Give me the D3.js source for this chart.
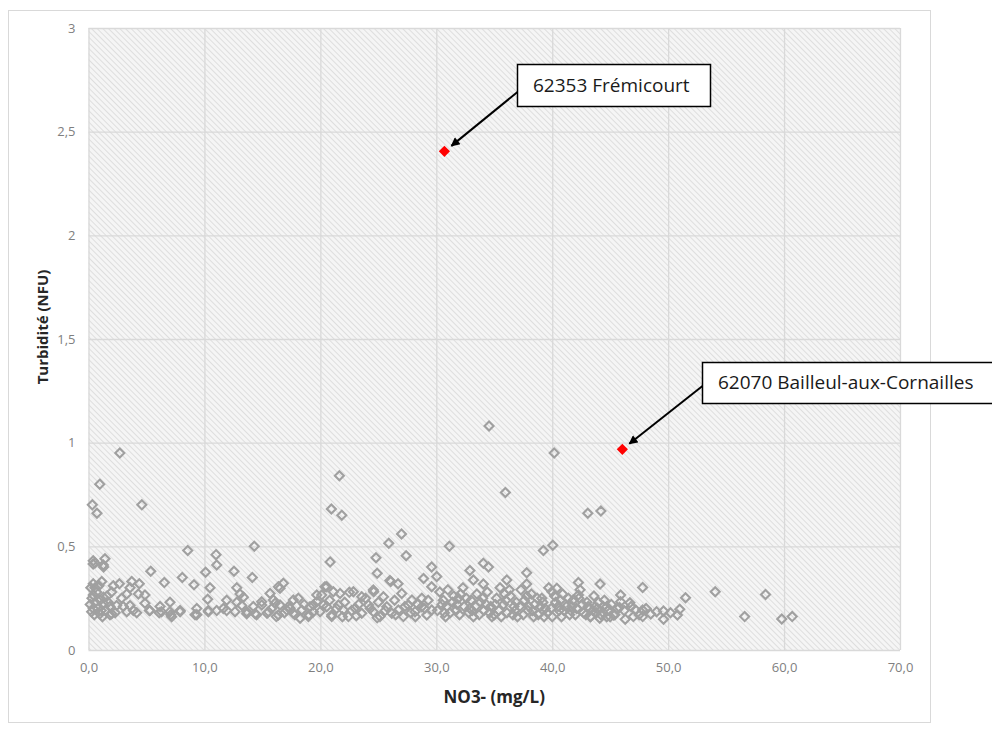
<!DOCTYPE html>
<html>
<head>
<meta charset="utf-8">
<script src="https://cdn.jsdelivr.net/npm/d3@7/dist/d3.min.js"></script>
<style>
  html, body { margin: 0; padding: 0; background: #fff; }
  svg { display: block; font-family: "Open Sans", "Liberation Sans", sans-serif; }
</style>
</head>
<body>
<svg id="chart" width="992" height="731"></svg>
<script>
// ---------- DATA ----------
const xTicks = [0, 10, 20, 30, 40, 50, 60, 70];
const yTicks = [0, 0.5, 1, 1.5, 2, 2.5, 3];
const xTitle = "NO3- (mg/L)";
const yTitle = "Turbidité (NFU)";

// [NO3- mg/L, turbidity NFU] — elevated points
const outlierPoints = [
  [0.33,0.70],[0.73,0.66],[0.97,0.80],[2.7,0.95],[4.6,0.70],[8.56,0.48],[14.3,0.50],
  [0.41,0.43],[1.42,0.44],[0.56,0.42],[1.28,0.41],[0.4,0.415],[1.3,0.40],
  [5.37,0.38],[11.0,0.46],[11.06,0.41],[10.1,0.375],[12.55,0.38],[14.13,0.35],[8.09,0.35],
  [6.54,0.325],[9.1,0.315],[10.48,0.30],[10.28,0.245],
  [21.64,0.84],[20.95,0.68],[21.85,0.65],[27.0,0.56],[25.9,0.515],[27.4,0.455],[24.8,0.445],
  [20.84,0.425],[24.9,0.37],[26.0,0.335],[26.7,0.32],[28.9,0.345],[29.6,0.40],[29.6,0.305],
  [34.55,1.08],[40.17,0.95],[35.96,0.76],[43.07,0.66],[44.2,0.67],[31.13,0.50],[40.05,0.505],
  [39.24,0.48],[34.06,0.418],[34.5,0.40],[32.9,0.383],[37.8,0.373],[30.04,0.354],[33.2,0.338],
  [36.08,0.338],[34.06,0.318],[37.8,0.318],[42.26,0.325],[44.13,0.318],[40.4,0.298],[39.97,0.281],
  [42.26,0.265],[47.8,0.302],[54.06,0.281],[58.4,0.268],[51.5,0.252],[56.6,0.161],[59.8,0.15],[60.7,0.161]
];

// main band, 0 to 15 mg/L
const band0to15 = [
  [0.41,0.32],[1.14,0.33],[0.56,0.30],[2.14,0.31],[2.66,0.32],[3.73,0.33],[4.38,0.32],[3.58,0.30],
  [4.3,0.27],[4.87,0.265],[3.3,0.27],[2.86,0.25],[2.0,0.28],[0.41,0.265],[1.28,0.255],[0.56,0.23],
  [1.28,0.225],[0.41,0.20],[1.85,0.21],[2.43,0.215],[3.0,0.21],[3.87,0.19],[3.58,0.215],[4.87,0.225],
  [5.3,0.19],[6.17,0.21],[6.3,0.185],[7.03,0.23],[7.03,0.185],[7.9,0.19],[7.17,0.16],[9.34,0.20],
  [9.19,0.17],[10.34,0.19],[11.06,0.19],[11.92,0.24],[11.63,0.20],[12.79,0.23],[13.07,0.27],[12.79,0.30],
  [13.36,0.255],[13.22,0.215],[13.65,0.185],[14.22,0.21],[14.37,0.175],[0.99,0.175],[1.85,0.17],[0.27,0.185],
  [2.0,0.175],[3.3,0.185],[4.16,0.18],[5.25,0.19],[6.1,0.18],[7.1,0.17],[7.9,0.185],[9.34,0.17],
  [10.34,0.185],[11.92,0.19],[12.64,0.185],[13.65,0.175],[14.5,0.17],
  [0.2,0.30],[0.7,0.28],[1.0,0.24],[0.15,0.22],[0.8,0.20],[1.5,0.19],[0.5,0.17],[1.2,0.16],
  [1.6,0.26],[0.9,0.31],[1.7,0.23],[2.3,0.18],[0.3,0.25],[1.1,0.19]
];

// main band, 15 to 30 mg/L
const band15to30 = [
  [14.94,0.233],[15.66,0.273],[16.52,0.298],[16.81,0.322],[15.95,0.241],[17.67,0.241],[18.1,0.249],
  [19.11,0.209],[19.69,0.233],[20.55,0.305],[21.12,0.281],[20.12,0.265],[16.52,0.217],[17.39,0.201],
  [16.38,0.305],[19.69,0.265],[20.4,0.305],[21.7,0.273],[22.85,0.281],[23.57,0.257],[24.57,0.289],
  [25.44,0.257],[27.02,0.273],[27.9,0.241],[28.75,0.249],[22.5,0.278],[24.6,0.281],[26.07,0.33],
  [15.4,0.177],[16.2,0.161],[17.1,0.193],[18.25,0.153],[19.4,0.185],[20.26,0.217],[20.98,0.161],
  [14.94,0.217],[15.52,0.185],[16.09,0.225],[16.38,0.169],[17.24,0.209],[17.67,0.177],[18.4,0.193],
  [18.97,0.161],[19.4,0.217],[19.97,0.185],[20.55,0.209],[20.98,0.169],[21.56,0.217],[21.99,0.193],
  [22.42,0.161],[23.0,0.201],[23.57,0.177],[24.15,0.217],[24.57,0.185],[25.15,0.161],[25.73,0.209],
  [26.16,0.177],[26.73,0.193],[27.16,0.161],[27.59,0.217],[28.17,0.185],[28.75,0.209],[29.18,0.169],
  [29.61,0.193],
  [20.8,0.24],[21.4,0.20],[22.1,0.23],[22.7,0.19],[23.3,0.22],[23.9,0.25],[24.3,0.20],[25.0,0.23],
  [25.6,0.19],[26.4,0.24],[27.3,0.21],[27.8,0.18],[28.4,0.22],[29.0,0.20],[29.3,0.24],[21.9,0.16],
  [23.1,0.165],[24.9,0.155],[26.5,0.17],[28.2,0.16],[19.0,0.17],[18.6,0.22],[17.8,0.17],[15.8,0.20],
  [16.9,0.18]
];

// main band, 30 to 46 mg/L
const band30to46 = [
  [30.3,0.28],[30.6,0.24],[30.9,0.21],[31.2,0.18],[31.5,0.26],[31.8,0.22],[32.0,0.17],[32.3,0.30],
  [32.6,0.25],[32.9,0.20],[33.2,0.16],[33.5,0.27],[33.8,0.23],[34.1,0.19],[34.4,0.28],[34.7,0.21],
  [35.0,0.17],[35.2,0.25],[35.5,0.30],[35.8,0.22],[36.1,0.18],[36.4,0.26],[36.7,0.21],[37.0,0.16],
  [37.3,0.29],[37.6,0.24],[37.9,0.19],[38.2,0.27],[38.5,0.22],[38.8,0.17],[39.1,0.25],[39.4,0.20],
  [39.7,0.30],[40.0,0.16],[40.3,0.23],[40.6,0.19],[40.9,0.27],[41.2,0.21],[41.5,0.17],[41.8,0.24],
  [42.1,0.20],[42.4,0.29],[42.7,0.18],[43.0,0.23],[43.3,0.16],[43.6,0.26],[43.9,0.20],[44.2,0.17],
  [44.5,0.24],[44.8,0.19],[45.1,0.22],[45.4,0.17],
  [30.1,0.19],[30.8,0.16],[31.4,0.23],[32.1,0.27],[32.8,0.18],[33.4,0.21],[34.0,0.25],[34.8,0.16],
  [35.4,0.19],[36.0,0.24],[36.6,0.17],[37.2,0.21],[37.8,0.26],[38.4,0.16],[39.0,0.21],[39.6,0.18],
  [40.2,0.26],[40.8,0.16],[41.4,0.25],[42.0,0.17],[42.6,0.22],[43.2,0.20],[43.8,0.18],[44.4,0.21],
  [45.0,0.16],[45.6,0.20],
  [30.5,0.22],[31.0,0.29],[31.7,0.19],[33.0,0.24],[33.7,0.17],[34.3,0.22],[35.6,0.16],[36.3,0.29],
  [36.9,0.23],[38.0,0.21],[38.7,0.25],[39.3,0.16],[40.5,0.21],[41.0,0.19],[41.7,0.21],[42.9,0.17],
  [43.5,0.19],[44.0,0.23],[44.7,0.16],
  [30.7,0.18],[31.9,0.25],[32.4,0.21],[33.1,0.19],[34.6,0.18],[35.1,0.22],[35.9,0.27],[36.8,0.19],
  [37.5,0.17],[38.3,0.19],[39.2,0.23],[39.9,0.20],[40.7,0.24],[41.6,0.19],[42.3,0.25],[43.1,0.21]
];

// main band, above 45 mg/L
const band45plus = [
  [45.9,0.265],[51.0,0.196],[50.8,0.169],[49.6,0.148],[49.6,0.188],[49.0,0.185],[48.5,0.174],
  [47.8,0.161],[47.8,0.193],[47.0,0.161],[47.2,0.193],[46.7,0.228],[45.9,0.233],[46.3,0.148],
  [45.3,0.169],[44.7,0.209],[44.1,0.153],[43.7,0.209],[43.3,0.161],[46.8,0.21],[47.5,0.17],
  [48.1,0.20],[46.2,0.19],[45.8,0.205],[50.2,0.18]
];

// highlighted stations
const highlightNames = ["62353 Frémicourt", "62070 Bailleul-aux-Cornailles"];
const highlightNO3 = [30.7, 46.05];
const highlightTurb = [2.405, 0.968];

// ---------- LAYOUT ----------
const svg = d3.select("#chart");
const plot = { left: 88.5, right: 900, top: 28, bottom: 650 };

const defs = svg.append("defs");
const pat = defs.append("pattern")
  .attr("id", "hatch").attr("width", 4).attr("height", 4)
  .attr("patternUnits", "userSpaceOnUse")
  .attr("patternTransform", "rotate(-45)");
pat.append("rect").attr("width", 4).attr("height", 4).attr("fill", "#f5f5f5");
pat.append("line").attr("x1", 0).attr("y1", 0).attr("x2", 0).attr("y2", 4)
  .attr("stroke", "#d4d4d4").attr("stroke-width", 1.4);

defs.append("marker")
  .attr("id", "arrow").attr("viewBox", "0 0 10 10")
  .attr("refX", 9).attr("refY", 5)
  .attr("markerWidth", 5).attr("markerHeight", 4.5)
  .attr("markerUnits", "strokeWidth")
  .attr("orient", "auto")
  .append("path").attr("d", "M0,0 L10,5 L0,10 z").attr("fill", "#000");

// outer chart frame
svg.append("rect").attr("x", 8.5).attr("y", 10.5).attr("width", 922).attr("height", 712)
  .attr("fill", "#fff").attr("stroke", "#d9d9d9").attr("stroke-width", 1);

const x = d3.scaleLinear().domain([0, 70]).range([plot.left, plot.right]);
const y = d3.scaleLinear().domain([0, 3]).range([plot.bottom, plot.top]);

// plot background
svg.append("rect")
  .attr("x", x(0)).attr("y", y(3))
  .attr("width", x(70) - x(0)).attr("height", y(0) - y(3))
  .attr("fill", "url(#hatch)");

const loc = d3.formatLocale({ decimal: ",", thousands: " ", grouping: [3], currency: ["", " €"] });
const fx = loc.format(".1f");
const fy = v => loc.format("~g")(v);

// gridlines
svg.append("g")
  .attr("transform", `translate(0,${plot.bottom})`)
  .call(d3.axisBottom(x).tickValues(xTicks).tickSize(-(plot.bottom - plot.top)).tickFormat(""))
  .call(g => g.select(".domain").remove())
  .call(g => g.selectAll("line").attr("stroke", "#d9d9d9").attr("stroke-width", 1.3));
svg.append("g")
  .attr("transform", `translate(${plot.left},0)`)
  .call(d3.axisLeft(y).tickValues(yTicks).tickSize(-(plot.right - plot.left)).tickFormat(""))
  .call(g => g.select(".domain").remove())
  .call(g => g.selectAll("line").attr("stroke", "#d9d9d9").attr("stroke-width", 1.3));

// tick labels
const xAxis = svg.append("g")
  .attr("transform", `translate(0,${plot.bottom + 10})`)
  .call(d3.axisBottom(x).tickValues(xTicks).tickSize(0).tickFormat(fx));
xAxis.select(".domain").remove();
xAxis.selectAll("text").attr("font-size", 13).attr("fill", "#7f7f7f")
  .attr("font-family", "Open Sans, sans-serif");

const yAxis = svg.append("g")
  .attr("transform", `translate(${plot.left - 10},0)`)
  .call(d3.axisLeft(y).tickValues(yTicks).tickSize(0).tickFormat(fy));
yAxis.select(".domain").remove();
yAxis.selectAll("text").attr("font-size", 13).attr("fill", "#7f7f7f")
  .attr("font-family", "Open Sans, sans-serif");

// axis titles
svg.append("text")
  .attr("x", (plot.left + plot.right) / 2).attr("y", 703)
  .attr("text-anchor", "middle").attr("font-size", 17).attr("font-weight", "bold")
  .attr("fill", "#262626").text(xTitle);
svg.append("text")
  .attr("transform", `translate(48,${(plot.top + plot.bottom) / 2 - 12}) rotate(-90)`)
  .attr("text-anchor", "middle").attr("font-size", 15).attr("font-weight", "bold")
  .attr("fill", "#262626").text(yTitle);

// points
const allPoints = [].concat(band0to15, band15to30, band30to46, band45plus, outlierPoints);
const diamond = d3.symbol().type(d3.symbolDiamond2).size(52);
svg.append("g").selectAll("path")
  .data(allPoints).join("path")
  .attr("d", diamond)
  .attr("transform", d => `translate(${x(d[0])},${y(d[1])})`)
  .attr("fill", "none").attr("stroke", "#a0a0a0").attr("stroke-width", 2.1);

// highlighted points
const hl = highlightNames.map((n, i) => ({ name: n, no3: highlightNO3[i], turb: highlightTurb[i] }));
const diamondRed = d3.symbol().type(d3.symbolDiamond2).size(80);
svg.append("g").selectAll("path")
  .data(hl).join("path")
  .attr("d", diamondRed)
  .attr("transform", d => `translate(${x(d.no3)},${y(d.turb)})`)
  .attr("fill", "#ff0000");

// annotation callouts (box position in px, arrow to the point)
const boxes = [
  { bx: 517.5, by: 64.5, bw: 193, bh: 42, ax: 517.5, ay: 92 },
  { bx: 702.5, by: 362.5, bw: 300, bh: 41, ax: 702.5, ay: 386 }
];
hl.forEach((d, i) => {
  const b = boxes[i];
  const px = x(d.no3), py = y(d.turb);
  svg.append("line")
    .attr("x1", b.ax).attr("y1", b.ay)
    .attr("x2", px + 7).attr("y2", py - 5.5)
    .attr("stroke", "#000").attr("stroke-width", 2)
    .attr("marker-end", "url(#arrow)");
  svg.append("rect")
    .attr("x", b.bx).attr("y", b.by).attr("width", b.bw).attr("height", b.bh)
    .attr("fill", "#fff").attr("stroke", "#000").attr("stroke-width", 1.5);
  svg.append("text")
    .attr("x", b.bx + 15.5).attr("y", b.by + b.bh / 2 + 1)
    .attr("dominant-baseline", "middle")
    .attr("font-size", 19).attr("fill", "#1a1a1a")
    .text(d.name);
});
</script>
</body>
</html>
